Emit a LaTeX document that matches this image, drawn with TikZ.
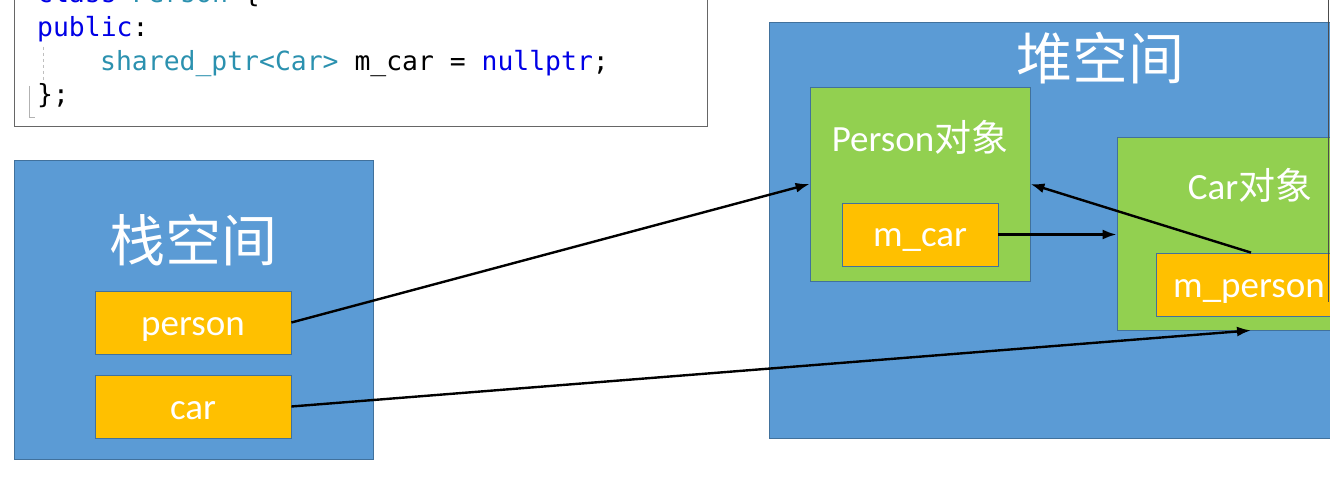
\documentclass[tikz,border=0pt]{standalone}
\usepackage{fontspec}
\setmainfont{Carlito}
\setmonofont{DejaVu Sans Mono}
\newfontfamily\cjk{Noto Sans CJK SC}
\usetikzlibrary{arrows.meta,calc}
\definecolor{pptblue}{RGB}{91,155,213}
\definecolor{pptedge}{RGB}{65,113,156}
\definecolor{pptgreen}{RGB}{146,208,80}
\definecolor{pptorange}{RGB}{255,192,0}
\definecolor{kwblue}{RGB}{0,0,230}
\definecolor{typeteal}{RGB}{43,145,175}
\tikzset{
  region/.style={draw=pptedge, line width=1pt, fill=pptblue, inner sep=0pt},
  objbox/.style={draw=pptedge, line width=0.8pt, fill=pptgreen, inner sep=0pt},
  fieldbox/.style={draw=pptedge, line width=0.8pt, fill=pptorange, inner sep=0pt,
    text=white, text height=28pt, text depth=3pt, font=\fontsize{37}{40}\selectfont},
  title/.style={text=white, inner sep=0pt, font=\cjk\fontsize{56}{60}\selectfont},
  objlabel/.style={text=white, inner sep=0pt, font=\fontsize{37}{40}\selectfont},
  code/.style={anchor=base west, inner sep=0pt, font=\ttfamily\fontsize{26.4}{30}\selectfont},
  ptr/.style={draw=black, line width=2.4pt, -{Latex[length=14pt,width=10pt]}},
}
\begin{document}
\begin{tikzpicture}[x=1pt,y=-1pt]
\useasboundingbox (0,0) rectangle (1330,478);
\fill[white] (0,0) rectangle (1330,478);
\clip (0,0) rectangle (1330,478);

% code box
\node[draw=gray!80!black, line width=1pt, fill=white, inner sep=0pt,
  minimum width=693pt, minimum height=157pt] (codebox) at (360.5,48.5) {};
\node[code] (l1) at (37,3) {\textcolor{kwblue}{class} \textcolor{typeteal}{Person} \{};
\node[code] (l2) at (37,37) {\textcolor{kwblue}{public}:};
\node[code] (l3) at (100,71) {\textcolor{typeteal}{shared\_ptr<Car>} m\_car = \textcolor{kwblue}{nullptr};};
\node[code] (l4) at (37,104) {\};};
\draw[gray!50, dashed, line width=0.6pt] (43,47) -- (43,80);
\draw[gray!60, line width=0.6pt] (29,86) -- (29,117) -- (35,117);

% stack space
\node[region, minimum width=359pt, minimum height=298pt] (stack) at (193.5,310) {};
\node[title] (stacktitle) at (193,240) {栈空间};
\node[fieldbox, minimum width=196pt, minimum height=63pt] (person) at (193,322.5) {person};
\node[fieldbox, minimum width=196pt, minimum height=63pt] (car) at (193,406.5) {car};

% heap space
\node[region, minimum width=580pt, minimum height=415pt] (heap) at (1059,230.5) {};
\node[title] (heaptitle) at (1100,58) {堆空间};

\node[objbox, minimum width=220pt, minimum height=194pt] (pobj) at (920,184) {};
\node[objlabel, anchor=base] (plabel) at (920,152) {Person{\cjk 对象}};
\node[fieldbox, minimum width=156pt, minimum height=63pt] (mcar) at (920,234.5) {m\_car};

\node[objbox, minimum width=230pt, minimum height=193pt] (cobj) at (1232,233.5) {};
\node[objlabel, anchor=base] (clabel) at (1250,200) {Car{\cjk 对象}};
\node[fieldbox, minimum width=190pt, minimum height=63pt] (mperson) at (1251,284.5) {};
\node[objlabel, anchor=base west] (mpersonlabel) at (1173,298) {m\_person};

% screen edge
\draw[black!70, line width=1.2pt] (1328.5,0) -- (1328.5,302);

% pointers
\draw[ptr] (person.east) -- (pobj.west);
\draw[ptr] (car.east) -- (mperson.center |- cobj.south);
\draw[ptr] (mcar.east) -- (cobj.west |- mcar.east);
\draw[ptr] (mperson.north) -- (pobj.east);
\end{tikzpicture}
\end{document}
